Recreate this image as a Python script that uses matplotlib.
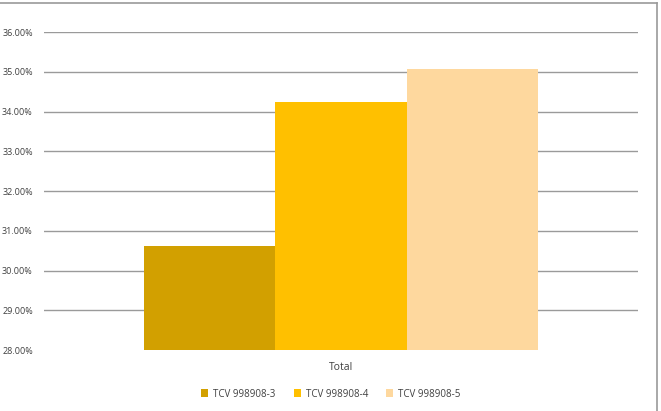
import matplotlib
matplotlib.use("Agg")
import matplotlib.pyplot as plt
from matplotlib.lines import Line2D
from matplotlib.ticker import FuncFormatter

categories = ["Total"]
series = ["TCV 998908-3", "TCV 998908-4", "TCV 998908-5"]
values = [30.62, 34.25, 35.07]
colors = ["#D2A000", "#FFC000", "#FED89E"]
yticks = [28, 29, 30, 31, 32, 33, 34, 35, 36]

plt.rcParams['font.family'] = ['Open Sans', 'DejaVu Sans']

fig = plt.figure(figsize=(6.61, 4.11), dpi=100)
ax = fig.add_axes([44/661, 1-350/411, (638-44)/661, (350-32)/411])

offsets = [-1, 0, 1]
for off, v, c, s in zip(offsets, values, colors, series):
    ax.bar(off, v - 28, bottom=28, width=1.0, color=c, label=s, zorder=3)

ax.set_ylim(28, 36)
half = 594/131.3/2
ax.set_xlim(-half, half)
ax.set_yticks(yticks)
ax.yaxis.set_major_formatter(FuncFormatter(lambda v, p: f"{v:.2f}%"))
ax.set_xticks([0])
ax.set_xticklabels(categories)
for y in yticks[1:]:
    ax.axhline(y, color="#9a9a9a", lw=1.0, zorder=1)
for sp in ax.spines.values():
    sp.set_visible(False)
ax.tick_params(axis='y', length=0, labelsize=6.5, labelcolor="#404040", pad=8)
ax.tick_params(axis='x', length=0, labelsize=7.5, labelcolor="#404040", pad=9)

leg = fig.legend(loc="center", bbox_to_anchor=(331/661, 1-394/411), ncol=3, frameon=False,
                 fontsize=7, handlelength=0.7, handleheight=0.8, columnspacing=1.9,
                 handletextpad=0.5)
for t in leg.get_texts():
    t.set_color("#404040")

fig.lines.append(Line2D([0, 657/661], [1-3/411, 1-3/411], transform=fig.transFigure,
                        color="#9a9a9a", lw=1.2))
fig.lines.append(Line2D([657/661, 657/661], [0, 1-3/411], transform=fig.transFigure,
                        color="#9a9a9a", lw=1.2))

fig.savefig("out.png", dpi=100)
